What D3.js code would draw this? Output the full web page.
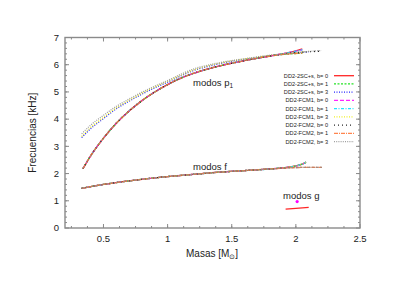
<!DOCTYPE html>
<html>
<head>
<meta charset="utf-8">
<script src="https://cdn.jsdelivr.net/npm/d3@7"></script>
<style>
  body { margin: 0; background: #fff; }
  text { font-family: "Liberation Sans", Arial, sans-serif; fill: #222; }
</style>
</head>
<body>
<div class="chart"></div>
<script>
"use strict";

// p1 modes, lower branch (b = 0, 1)
const pLowMass   = [0.34, 0.4, 0.5, 0.6, 0.7, 0.8, 0.9, 1.0, 1.1, 1.2, 1.4, 1.6, 1.8, 1.95, 2.05];
const pLowRed    = [2.18, 2.65, 3.3, 3.85, 4.3, 4.68, 5.0, 5.27, 5.5, 5.68, 5.95, 6.15, 6.32, 6.45, 6.58];
const pLowGreen  = [2.18, 2.65, 3.3, 3.85, 4.3, 4.68, 5.0, 5.27, 5.5, 5.68, 5.95, 6.15, 6.32, 6.4, 6.42];
const pLowFCM1   = [2.18, 2.65, 3.3, 3.85, 4.3, 4.68, 5.0, 5.27, 5.5, 5.68, 5.95, 6.15, 6.32, 6.45, 6.55];
const pFCM2Mass  = [0.34, 0.4, 0.5, 0.6, 0.7, 0.8, 0.9, 1.0, 1.1, 1.2, 1.4, 1.6, 1.8, 1.95, 2.05, 2.2];
const pLowFCM2   = [2.18, 2.65, 3.3, 3.85, 4.3, 4.68, 5.0, 5.27, 5.5, 5.68, 5.95, 6.15, 6.32, 6.42, 6.46, 6.5];

// p1 modes, upper branch (b = 3)
const pHighMass  = [0.33, 0.4, 0.5, 0.6, 0.7, 0.8, 0.9, 1.0, 1.2, 1.4, 1.6, 1.8, 2.0, 2.1];
const pHigh2SC   = [3.32, 3.65, 4.02, 4.38, 4.66, 4.92, 5.15, 5.36, 5.78, 6.03, 6.2, 6.33, 6.43, 6.48];
const pHighFCM1  = [3.36, 3.69, 4.06, 4.41, 4.69, 4.95, 5.18, 5.39, 5.8, 6.05, 6.21, 6.34, 6.44, 6.49];
const pHighFCMass = [0.33, 0.4, 0.5, 0.6, 0.7, 0.8, 0.9, 1.0, 1.2, 1.4, 1.6, 1.8, 2.0, 2.2];
const pHighFCM2  = [3.46, 3.78, 4.14, 4.47, 4.74, 4.99, 5.21, 5.42, 5.84, 6.07, 6.22, 6.35, 6.45, 6.52];

// f modes
const fMass      = [0.33, 0.4, 0.5, 0.6, 0.7, 0.8, 0.9, 1.0, 1.2, 1.4, 1.6, 1.8, 1.9, 2.0, 2.05, 2.08];
const fRise      = [1.46, 1.52, 1.6, 1.67, 1.73, 1.79, 1.84, 1.89, 1.97, 2.05, 2.11, 2.17, 2.21, 2.28, 2.35, 2.42];
const fMassFCM2  = [0.33, 0.4, 0.5, 0.6, 0.7, 0.8, 0.9, 1.0, 1.2, 1.4, 1.6, 1.8, 1.9, 2.0, 2.1, 2.2];
const fFlat      = [1.46, 1.52, 1.6, 1.67, 1.73, 1.79, 1.84, 1.89, 1.97, 2.05, 2.11, 2.17, 2.2, 2.22, 2.23, 2.23];

// g modes
const gMass      = [1.92, 2.0, 2.1];
const gRed       = [0.69, 0.72, 0.76];
const gPointMass = [2.01];
const gPoint     = [0.97];

const legendLabels = [
    "DD2-2SC+s, b= 0", "DD2-2SC+s, b= 1", "DD2-2SC+s, b= 3",
    "DD2-FCM1, b= 0", "DD2-FCM1, b= 1", "DD2-FCM1, b= 3",
    "DD2-FCM2, b= 0", "DD2-FCM2, b= 1", "DD2-FCM2, b= 3"
];
const colors = ["#ff0000", "#00e000", "#0000ff", "#ff00ff", "#00e0ff", "#f0f000", "#000000", "#ff7030", "#909090"];
const dashes = ["none", "2,1.5", "1,1.5", "4,2", "3,1.5,1,1.5", "1,1.5", "1,3", "4,1,1,1", "1,1.2"];

const yTicks = [0, 1, 2, 3, 4, 5, 6, 7];
const xTicks = [0.5, 1, 1.5, 2, 2.5];

const pts = (m, f) => m.map((d, i) => [d, f[i]]);

// curves per series: list of point arrays
const curves = [
    [pts(pLowMass, pLowRed), pts(fMass, fRise), pts(gMass, gRed)],
    [pts(pLowMass, pLowGreen), pts(fMass, fRise)],
    [pts(pHighMass, pHigh2SC), pts(fMass, fRise)],
    [pts(pLowMass, pLowFCM1), pts(fMass, fRise), pts(gPointMass, gPoint)],
    [pts(pLowMass, pLowFCM1), pts(fMass, fRise)],
    [pts(pHighMass, pHighFCM1), pts(fMass, fRise)],
    [pts(pFCM2Mass, pLowFCM2), pts(fMassFCM2, fFlat)],
    [pts(pLowMass, pLowGreen), pts(fMassFCM2, fFlat)],
    [pts(pHighFCMass, pHighFCM2), pts(fMassFCM2, fFlat)]
];

const W = 415, H = 294;
const L = 65, R = 360, T = 37.5, B = 228;

const svg = d3.select(".chart").append("svg")
    .attr("width", W).attr("height", H);

const x = d3.scaleLinear().domain([0.2, 2.5]).range([L, R]);
const y = d3.scaleLinear().domain([0, 7]).range([B, T]);

const line = d3.line().x(d => x(d[0])).y(d => y(d[1])).curve(d3.curveMonotoneX);

// curves
curves.forEach((set, i) => {
    set.forEach(c => {
        if (c.length === 1) {
            svg.append("circle")
                .attr("cx", x(c[0][0])).attr("cy", y(c[0][1]))
                .attr("r", 1.6).attr("fill", colors[i]);
            return;
        }
        svg.append("path")
            .attr("d", line(c))
            .attr("fill", "none")
            .attr("stroke", colors[i])
            .attr("stroke-width", 1.3)
            .attr("stroke-dasharray", dashes[i])
            .attr("opacity", 0.85);
    });
});

// frame and ticks
const frame = svg.append("g").attr("stroke", "#8a8a8a");
frame.append("rect")
    .attr("x", L).attr("y", T).attr("width", R - L).attr("height", B - T)
    .attr("fill", "none").attr("stroke-width", 1.4);

const xMinor = d3.range(0.25, 2.5, 0.125);
const yMinor = d3.range(0.2, 7, 0.2);

xMinor.forEach(v => {
    frame.append("line").attr("x1", x(v)).attr("x2", x(v)).attr("y1", B).attr("y2", B - 2);
    frame.append("line").attr("x1", x(v)).attr("x2", x(v)).attr("y1", T).attr("y2", T + 2);
});
xTicks.forEach(v => {
    frame.append("line").attr("x1", x(v)).attr("x2", x(v)).attr("y1", B).attr("y2", B - 4);
    frame.append("line").attr("x1", x(v)).attr("x2", x(v)).attr("y1", T).attr("y2", T + 4);
});
yMinor.forEach(v => {
    frame.append("line").attr("x1", L).attr("x2", L + 2).attr("y1", y(v)).attr("y2", y(v));
    frame.append("line").attr("x1", R).attr("x2", R - 2).attr("y1", y(v)).attr("y2", y(v));
});
yTicks.forEach(v => {
    frame.append("line").attr("x1", L).attr("x2", L + 4).attr("y1", y(v)).attr("y2", y(v));
    frame.append("line").attr("x1", R).attr("x2", R - 4).attr("y1", y(v)).attr("y2", y(v));
});
frame.selectAll("line").attr("stroke-width", 1);

// tick labels
svg.append("g").selectAll("text").data(yTicks).join("text")
    .attr("x", L - 6).attr("y", d => y(d)).attr("dy", "0.35em")
    .attr("text-anchor", "end").attr("font-size", 9.5).text(d => d);

svg.append("g").selectAll("text").data(xTicks).join("text")
    .attr("x", d => x(d)).attr("y", B + 14)
    .attr("text-anchor", "middle").attr("font-size", 9.5).text(d => d);

// axis titles
svg.append("text")
    .attr("transform", `translate(36,${(T + B) / 2}) rotate(-90)`)
    .attr("text-anchor", "middle").attr("font-size", 10)
    .text("Frecuencias [kHz]");

const xt = svg.append("text")
    .attr("x", 186).attr("y", 257).attr("font-size", 10);
xt.append("tspan").text("Masas [M");
xt.append("tspan").attr("font-size", 7).attr("dy", 2).text("\u2299");
xt.append("tspan").attr("dy", -2).text("]");

// mode labels
const p1 = svg.append("text").attr("x", 193).attr("y", 86).attr("font-size", 9.5);
p1.append("tspan").text("modos p");
p1.append("tspan").attr("font-size", 6.5).attr("dy", 2).text("1");

svg.append("text").attr("x", 193).attr("y", 170).attr("font-size", 9.5).text("modos f");
svg.append("text").attr("x", 283).attr("y", 199).attr("font-size", 9.5).text("modos g");

// legend
const leg = svg.append("g");
legendLabels.forEach((lab, i) => {
    const ly = 75.7 + i * 8.25;
    leg.append("text")
        .attr("x", 328).attr("y", ly).attr("dy", "0.35em")
        .attr("text-anchor", "end").attr("font-size", 5.6).attr("fill", "#333")
        .text(lab);
    leg.append("line")
        .attr("x1", 334).attr("x2", 354).attr("y1", ly).attr("y2", ly)
        .attr("stroke", colors[i]).attr("stroke-width", 1.3)
        .attr("stroke-dasharray", dashes[i]).attr("opacity", 0.85);
});
</script>
</body>
</html>
